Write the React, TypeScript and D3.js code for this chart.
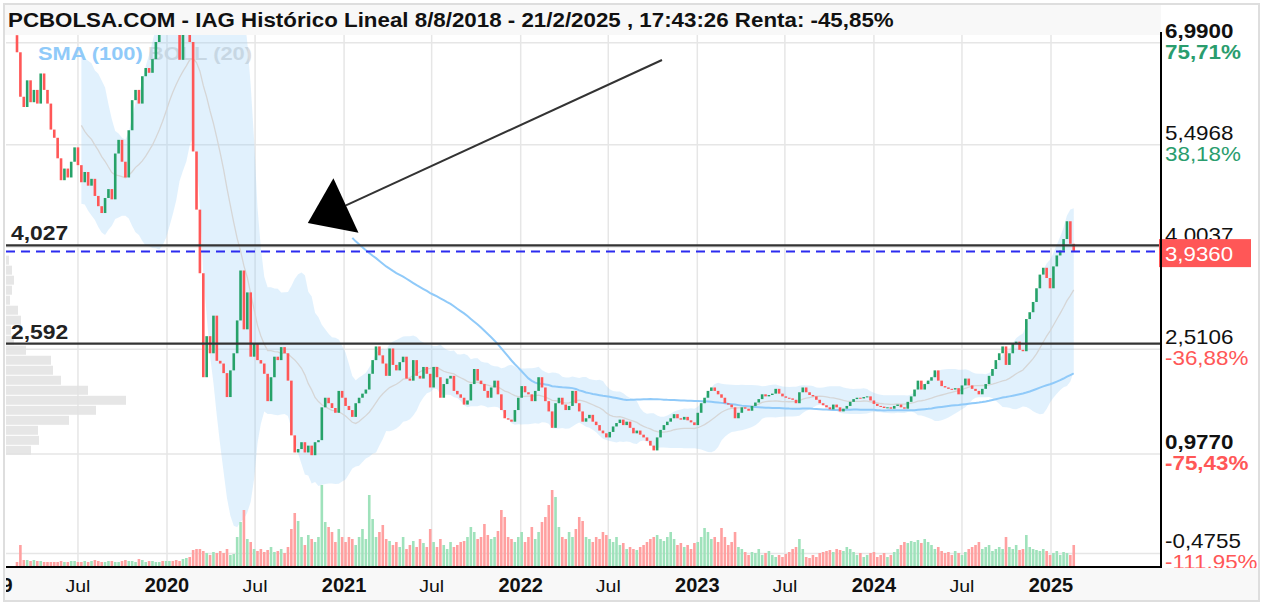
import * as d3 from 'd3';
import React, { useEffect, useRef } from 'react';

// weekly candles, first week starting 25/2/2019
const firstWeek = new Date(2019, 1, 25);
const firstOpen = 7.1;

const closes = [
    6.85, 6.20, 6.05, 6.44, 6.12, 6.30, 6.10, 6.54, 6.30, 6.10,
    5.72, 5.60, 5.30, 4.98, 5.15, 5.02, 5.25, 5.46, 5.20, 4.95,
    5.10, 4.90, 5.00, 4.75, 4.60, 4.50, 4.72, 4.85, 4.70, 5.37,
    5.57, 5.25, 5.02, 5.71, 6.15, 6.30, 6.10, 6.50, 6.62, 6.55,
    6.75, 7.00, 7.30, 7.25, 7.45, 7.50, 7.35, 7.15, 6.74, 7.15,
    7.20, 7.00, 5.40, 4.55, 3.62, 2.10, 2.70, 2.45, 3.00, 2.34,
    2.30, 2.16, 1.81, 2.20, 2.45, 2.93, 3.66, 2.80, 3.34, 2.40,
    2.60, 2.35, 2.30, 2.15, 1.75, 2.10, 2.40, 2.35, 2.54, 2.45,
    2.05, 1.25, 1.00, 1.05, 1.15, 1.00, 1.10, 0.96, 1.15, 1.18,
    1.66, 1.80, 1.72, 1.65, 1.58, 1.90, 1.80, 1.68, 1.62, 1.52,
    1.72, 1.80, 1.86, 1.92, 2.15, 2.35, 2.55, 2.42, 2.30, 2.12,
    2.52, 2.28, 2.20, 2.32, 2.40, 2.08, 2.05, 2.35, 2.12, 2.08,
    2.25, 2.15, 1.95, 2.25, 2.10, 1.80, 2.00, 2.08, 2.12, 1.90,
    1.85, 1.80, 1.70, 1.76, 2.00, 2.22, 2.05, 2.00, 1.90, 1.80,
    1.95, 2.05, 1.85, 1.62, 1.50, 1.48, 1.45, 1.62, 1.80, 1.97,
    1.88, 1.85, 1.75, 1.90, 2.10, 1.95, 1.75, 1.60, 1.36, 1.72,
    1.80, 1.70, 1.62, 1.68, 1.90, 1.72, 1.60, 1.45, 1.50, 1.55,
    1.45, 1.40, 1.32, 1.28, 1.22, 1.30, 1.38, 1.43, 1.48, 1.40,
    1.45, 1.36, 1.28, 1.32, 1.26, 1.22, 1.17, 1.10, 1.03, 1.22,
    1.33, 1.40, 1.45, 1.50, 1.56, 1.50, 1.48, 1.52, 1.47, 1.44,
    1.40, 1.58, 1.72, 1.80, 1.90, 1.95, 1.90, 1.85, 1.80, 1.72,
    1.70, 1.66, 1.50, 1.58, 1.66, 1.64, 1.61, 1.68, 1.73, 1.78,
    1.85, 1.82, 1.84, 1.86, 1.93, 1.86, 1.82, 1.80, 1.79, 1.77,
    1.72, 1.88, 1.95, 1.88, 1.84, 1.82, 1.77, 1.72, 1.69, 1.66,
    1.63, 1.70, 1.66, 1.60, 1.64, 1.68, 1.74, 1.78, 1.80, 1.79,
    1.81, 1.82, 1.76, 1.71, 1.68, 1.67, 1.65, 1.66, 1.64, 1.68,
    1.70, 1.66, 1.64, 1.74, 1.82, 1.92, 2.05, 1.92, 2.00, 2.05,
    2.10, 2.20, 2.05, 1.97, 1.95, 1.93, 1.92, 1.94, 1.85, 1.98,
    2.08, 1.98, 1.93, 1.90, 1.85, 1.93, 2.00, 2.12, 2.22, 2.35,
    2.45, 2.55, 2.28, 2.45, 2.60, 2.62, 2.50, 2.48, 2.95, 3.05,
    3.20, 3.40, 3.60, 3.70, 3.55, 3.40, 3.72, 3.88, 3.95, 4.12,
    4.38, 4.05, 3.936,
];

const volumes = [
    5, 22, 7, 7, 6, 7, 6, 6, 5, 5,
    5, 5, 5, 6, 5, 5, 6, 6, 5, 5,
    6, 5, 6, 7, 6, 5, 5, 6, 6, 5,
    5, 6, 7, 6, 6, 5, 8, 7, 5, 6,
    6, 5, 5, 6, 6, 6, 6, 7, 6, 8,
    9, 10, 17, 18, 18, 16, 14, 12, 15, 14,
    16, 14, 18, 12, 13, 30, 45, 57, 28, 25,
    18, 16, 18, 15, 17, 20, 15, 16, 18, 14,
    20, 38, 54, 46, 30, 22, 32, 28, 25, 30,
    82, 45, 40, 35, 25, 38, 30, 25, 30, 28,
    22, 30, 38, 28, 72, 48, 30, 35, 42, 28,
    26, 22, 25, 20, 30, 18, 22, 26, 20, 28,
    24, 20, 38, 25, 20, 28, 22, 18, 25, 20,
    22, 25, 26, 30, 40, 35, 28, 30, 43, 32,
    28, 30, 36, 57, 50, 30, 28, 25, 30, 35,
    25, 30, 40, 28, 35, 45, 50, 62, 77, 70,
    40, 30, 28, 35, 30, 38, 50, 46, 30, 28,
    25, 30, 28, 35, 32, 28, 25, 30, 22, 24,
    18, 20, 18, 17, 20, 22, 25, 28, 30, 32,
    28, 26, 30, 35, 28, 22, 24, 20, 22, 18,
    24, 25, 30, 39, 35, 28, 30, 25, 39, 30,
    22, 25, 35, 20, 18, 15, 12, 15, 14, 18,
    12, 14, 16, 12, 10, 12, 10, 13, 15, 18,
    20, 28, 18, 10, 9, 12, 10, 14, 15, 16,
    17, 15, 18, 17, 16, 20, 18, 15, 12, 14,
    10, 12, 14, 15, 10, 12, 14, 10, 12, 15,
    18, 22, 25, 24, 26, 25, 27, 24, 28, 25,
    22, 18, 20, 16, 14, 15, 12, 16, 14, 12,
    15, 18, 20, 22, 25, 18, 20, 22, 16, 18,
    20, 18, 30, 20, 18, 22, 17, 18, 32, 20,
    18, 17, 16, 18, 16, 12, 14, 16, 12, 15,
    14, 12, 22,
];

// volume by price (left histogram), bins of profileStep from profileStart
const profileStart = 0.958;
const profileStep = 0.1463;
const profileVolumes = [25, 33, 32, 63, 90, 120, 82, 55, 47, 45, 20, 8, 5, 15, 12, 4, 6, 8, 6, 3];

const priceTicks = [6.99, 5.4968, 4.0037, 2.5106, 0.977, -0.4755];
const priceTickLabels = ['6,9900', '5,4968', '4,0037', '2,5106', '0,9770', '-0,4755'];
const pctTickLabels = ['75,71%', '38,18%', '', '-36,88%', '-75,43%', '-111,95%'];
const boldTicks = [true, false, false, false, true, false];

const timeTicks = [
    new Date(2019, 0, 1), new Date(2019, 6, 1), new Date(2020, 0, 1), new Date(2020, 6, 1),
    new Date(2021, 0, 1), new Date(2021, 6, 1), new Date(2022, 0, 1), new Date(2022, 6, 1),
    new Date(2023, 0, 1), new Date(2023, 6, 1), new Date(2024, 0, 1), new Date(2024, 6, 1),
    new Date(2025, 0, 1),
];
const timeTickLabels = ['2019', 'Jul', '2020', 'Jul', '2021', 'Jul', '2022', 'Jul', '2023', 'Jul', '2024', 'Jul', '2025'];

const levelPrices = [4.027, 2.592];
const levelLabels = ['4,027', '2,592'];
const lastClose = 3.936;
const lastCloseLabel = '3,9360';

const arrowTail = { date: new Date(2022, 9, 20), price: 6.737 };
const arrowTip = { date: new Date(2020, 9, 18), price: 4.354 };

const title = 'PCBOLSA.COM - IAG Histórico Lineal 8/8/2018 - 21/2/2025 , 17:43:26 Renta: -45,85%';

const FONT = '"Liberation Sans", Arial, Helvetica, sans-serif';
const GREEN = '#26a269';
const RED = '#ff5757';

const App: React.FC = () => {
    const svgRef = useRef<SVGSVGElement | null>(null);

    useEffect(() => {
        const svg = d3.select(svgRef.current);
        svg.selectAll('*').remove();

        const plot = { left: 6, right: 1161, top: 35, bottom: 567 };

        const x = d3.scaleTime()
            .domain([new Date(2020, 0, 1), new Date(2025, 0, 1)])
            .range([167, 1051]);
        const y = d3.scaleLinear().domain([-0.4755, 6.99]).range([553.4, 42.7]);
        const vol = d3.scaleLinear().domain([0, 82]).range([0, 82]);
        const prof = d3.scaleLinear().domain([0, 120]).range([0, 120]);

        // text squeezed/stretched horizontally like the original renderer
        const label = (parent: any, tx: number, ty: number, sx: number, txt: string) =>
            parent.append('text')
                .attr('transform', `translate(${tx},${ty}) scale(${sx},1)`)
                .attr('font-family', FONT)
                .text(txt);

        const weeks = closes.map((c, i) => ({
            date: d3.timeDay.offset(firstWeek, 7 * i),
            open: i === 0 ? firstOpen : closes[i - 1],
            close: c,
            volume: volumes[i],
        }));

        // Bollinger (20, 2) and SMA (100)
        const boll = weeks.slice(19).map((w, j) => {
            const win = closes.slice(j, j + 20);
            const m = d3.mean(win) as number;
            const sd = Math.sqrt(d3.mean(win, v => (v - m) ** 2) as number);
            return { date: w.date, mid: m, up: m + 2 * sd, lo: m - 2 * sd };
        });
        const sma = weeks.slice(99).map((w, j) => ({
            date: w.date,
            v: d3.mean(closes.slice(j, j + 100)) as number,
        }));

        svg.append('rect').attr('width', 1264).attr('height', 608).attr('fill', '#fff');

        svg.append('defs').append('clipPath').attr('id', 'plotclip')
            .append('rect')
            .attr('x', plot.left).attr('y', plot.top)
            .attr('width', plot.right - plot.left).attr('height', plot.bottom - plot.top);

        const g = svg.append('g').attr('clip-path', 'url(#plotclip)');

        // grid
        g.selectAll('line.hg').data(priceTicks).enter().append('line')
            .attr('x1', plot.left).attr('x2', plot.right)
            .attr('y1', d => y(d)).attr('y2', d => y(d))
            .attr('stroke', '#e6e6e6').attr('stroke-width', 1.5);
        g.selectAll('line.vg').data(timeTicks).enter().append('line')
            .attr('x1', d => x(d)).attr('x2', d => x(d))
            .attr('y1', plot.top).attr('y2', plot.bottom)
            .attr('stroke', '#e6e6e6').attr('stroke-width', 1.5);

        // volume profile
        g.selectAll('rect.prof').data(profileVolumes).enter().append('rect')
            .attr('x', plot.left)
            .attr('y', (d, k) => y(profileStart + (k + 1) * profileStep) + 0.5)
            .attr('width', d => prof(d))
            .attr('height', (d, k) => y(profileStart + k * profileStep) - y(profileStart + (k + 1) * profileStep) - 1)
            .attr('fill', '#e2e2e2').attr('opacity', 0.85);

        // legend
        label(g, 38, 60, 1.15, 'SMA (100)')
            .attr('font-size', 19).attr('font-weight', 'bold').attr('fill', '#90caf9');
        label(g, 148, 60, 1.15, 'BOLL (20)')
            .attr('font-size', 19).attr('font-weight', 'bold').attr('fill', '#dcdcdc');

        // bollinger band
        g.append('path').datum(boll)
            .attr('d', d3.area<any>().x(d => x(d.date)).y0(d => y(d.lo)).y1(d => y(d.up)))
            .attr('fill', 'rgba(144,202,249,0.27)');
        g.append('path').datum(boll)
            .attr('d', d3.line<any>().x(d => x(d.date)).y(d => y(d.mid)))
            .attr('fill', 'none').attr('stroke', '#d6d6d6').attr('stroke-width', 1.3);

        // volume bars
        g.selectAll('rect.vol').data(weeks).enter().append('rect')
            .attr('x', d => x(d.date) - 1.3)
            .attr('y', d => plot.bottom - vol(d.volume))
            .attr('width', 2.6)
            .attr('height', d => vol(d.volume))
            .attr('fill', d => (d.close >= d.open ? '#9fe2bb' : '#ffa0a0'));

        // sma
        g.append('path').datum(sma)
            .attr('d', d3.line<any>().x(d => x(d.date)).y(d => y(d.v)))
            .attr('fill', 'none').attr('stroke', '#90caf9').attr('stroke-width', 2);

        // candles
        g.selectAll('rect.candle').data(weeks).enter().append('rect')
            .attr('x', d => x(d.date) - 1.3)
            .attr('y', d => y(Math.max(d.open, d.close)))
            .attr('width', 2.6)
            .attr('height', d => Math.max(1, Math.abs(y(d.open) - y(d.close))))
            .attr('fill', d => (d.close >= d.open ? GREEN : RED));

        // support / resistance levels
        g.selectAll('line.level').data(levelPrices).enter().append('line')
            .attr('x1', plot.left).attr('x2', plot.right)
            .attr('y1', d => y(d)).attr('y2', d => y(d))
            .attr('stroke', '#333').attr('stroke-width', 2.2);
        levelLabels.forEach((t, i) => {
            label(g, 11, y(levelPrices[i]) - 5, 1.09, t)
                .attr('font-size', 21).attr('font-weight', 'bold').attr('fill', '#222');
        });

        g.append('line')
            .attr('x1', plot.left).attr('x2', plot.right)
            .attr('y1', y(lastClose)).attr('y2', y(lastClose))
            .attr('stroke', '#2b2bf0').attr('stroke-width', 2).attr('stroke-dasharray', '9,6');

        // arrow annotation
        const tip: [number, number] = [x(arrowTip.date), y(arrowTip.price)];
        const tail: [number, number] = [x(arrowTail.date), y(arrowTail.price)];
        const len = Math.hypot(tip[0] - tail[0], tip[1] - tail[1]);
        const ux = (tip[0] - tail[0]) / len;
        const uy = (tip[1] - tail[1]) / len;
        const headLen = 42;
        const halfW = 30;
        const base: [number, number] = [tip[0] - ux * headLen, tip[1] - uy * headLen];
        g.append('line')
            .attr('x1', tail[0]).attr('y1', tail[1]).attr('x2', base[0]).attr('y2', base[1])
            .attr('stroke', '#333').attr('stroke-width', 2);
        g.append('path')
            .attr('d', `M${tip[0]},${tip[1]}L${base[0] - uy * halfW},${base[1] + ux * halfW}L${base[0] + uy * halfW},${base[1] - ux * halfW}Z`)
            .attr('fill', '#000');

        // title band
        svg.append('rect').attr('x', 5).attr('y', 5).attr('width', plot.right - 5).attr('height', 30).attr('fill', '#f8f8f8');
        label(svg, 8, 27, 1.145, title)
            .attr('font-size', 19.5).attr('font-weight', 'bold').attr('fill', '#111');

        // right axis labels
        const right = svg.append('g');
        priceTicks.forEach((p, i) => {
            label(right, 1165, y(p) - 5, 1.12, priceTickLabels[i])
                .attr('font-size', 20)
                .attr('font-weight', boldTicks[i] ? 'bold' : 'normal')
                .attr('fill', '#111');
            if (pctTickLabels[i]) {
                label(right, 1165, y(p) + 16, 1.12, pctTickLabels[i])
                    .attr('font-size', 20)
                    .attr('font-weight', boldTicks[i] ? 'bold' : 'normal')
                    .attr('fill', pctTickLabels[i].startsWith('-') ? '#ff5757' : '#2a9d6e');
            }
        });

        right.append('rect').attr('x', 1159).attr('y', y(lastClose) - 12.5).attr('width', 92).attr('height', 28)
            .attr('fill', '#ff5757');
        label(right, 1165, y(lastClose) + 9, 1.06, lastCloseLabel)
            .attr('font-size', 21).attr('fill', '#fff');

        // axes lines
        svg.append('line').attr('x1', plot.right).attr('x2', plot.right).attr('y1', 32).attr('y2', plot.bottom + 1)
            .attr('stroke', '#000').attr('stroke-width', 2);
        svg.append('line').attr('x1', plot.left).attr('x2', plot.right + 1).attr('y1', plot.bottom).attr('y2', plot.bottom)
            .attr('stroke', '#000').attr('stroke-width', 2);

        // x axis band
        svg.append('rect').attr('x', 5).attr('y', plot.bottom + 1).attr('width', 1253).attr('height', 32).attr('fill', '#f8f8f8');
        svg.append('defs').append('clipPath').attr('id', 'xclip')
            .append('rect').attr('x', plot.left).attr('y', plot.bottom).attr('width', 1200).attr('height', 40);
        const xl = svg.append('g').attr('clip-path', 'url(#xclip)');
        timeTicks.forEach((d, i) => {
            const isJul = timeTickLabels[i] === 'Jul';
            label(xl, x(d), 592, isJul ? 1.15 : 1, timeTickLabels[i])
                .attr('text-anchor', 'middle')
                .attr('font-size', isJul ? 17 : 20)
                .attr('font-weight', isJul ? 'normal' : 'bold')
                .attr('fill', '#111');
        });

        // outer frame
        svg.append('rect').attr('x', 4).attr('y', 4).attr('width', 1255).attr('height', 597)
            .attr('fill', 'none').attr('stroke', '#dedede').attr('stroke-width', 2);
    }, []);

    return (
        <svg ref={svgRef} width={1264} height={608} style={{ position: 'absolute', left: 0, top: 0 }}></svg>
    );
};

export default App;
